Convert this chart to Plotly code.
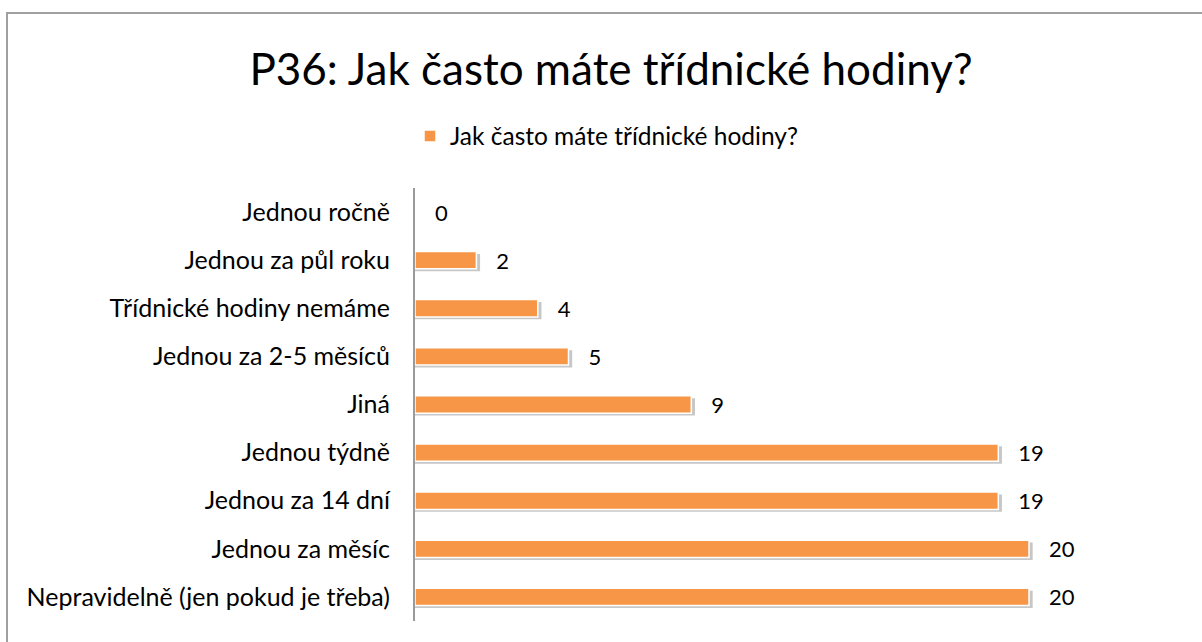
import plotly.graph_objects as go

categories = [
    "Nepravidelně (jen pokud je třeba)",
    "Jednou za měsíc",
    "Jednou za 14 dní",
    "Jednou týdně",
    "Jiná",
    "Jednou za 2-5 měsíců",
    "Třídnické hodiny nemáme",
    "Jednou za půl roku",
    "Jednou ročně",
]
values = [20, 20, 19, 19, 9, 5, 4, 2, 0]
series_name = "Jak často máte třídnické hodiny?"
title_text = "P36: Jak často máte třídnické hodiny?"

FONT = "Lato"
ORANGE = "#F79646"

W, H = 1202, 642
L, R_PX, T, B_PX = 415, 1130, 188, 621
PX_PER_UNIT = 30.7

fig = go.Figure()
# soft shadow behind bars (slightly lower and longer than the bar)
shadow_vals = [v + 0.12 if v > 0 else 0 for v in values]
fig.add_trace(go.Bar(
    y=categories, x=shadow_vals, orientation="h",
    marker=dict(color="rgba(0,0,0,0.22)", line=dict(width=0)),
    width=0.36, offset=-0.23, showlegend=False, hoverinfo="skip",
))
fig.add_trace(go.Bar(
    y=categories, x=values, orientation="h", name=series_name,
    marker=dict(color=ORANGE, line=dict(color="white", width=1.5)),
    width=0.36, offset=-0.18,
    text=values, texttemplate="   %{x}", textposition="outside",
    constraintext="none",
    textfont=dict(family=FONT, size=22, color="black"),
    cliponaxis=False,
))

def px_x(px):
    return (px - L) / (R_PX - L)

def px_y(py):
    return (B_PX - py) / (B_PX - T)

fig.update_layout(
    width=W, height=H,
    margin=dict(l=L, r=W - R_PX, t=T, b=H - B_PX, pad=0),
    paper_bgcolor="white", plot_bgcolor="white",
    barmode="overlay",
    font=dict(family=FONT, size=25, color="black"),
    title=dict(text=title_text, x=611 / W, xanchor="center", xref="container",
               y=1 - 70 / H, yanchor="middle", yref="container",
               font=dict(family=FONT, size=44, color="black")),
    legend=dict(orientation="h", x=px_x(410), xanchor="left",
                y=px_y(136), yanchor="middle",
                font=dict(family=FONT, size=24.5), itemwidth=30,
                traceorder="normal"),
    showlegend=True,
    xaxis=dict(range=[0, (R_PX - L) / PX_PER_UNIT], visible=False, fixedrange=True),
    yaxis=dict(showline=True, linecolor="#9a9a9a", linewidth=2,
               ticks="", showgrid=False, ticklabelstandoff=18,
               tickfont=dict(family=FONT, size=25), fixedrange=True),
    shapes=[dict(type="rect", xref="paper", yref="paper",
                 x0=px_x(7), x1=px_x(1220), y0=px_y(660), y1=px_y(13),
                 line=dict(color="#a0a0a0", width=2), fillcolor="rgba(0,0,0,0)",
                 layer="below")],
)

fig.write_html("out.html", config={"displayModeBar": False},
               post_script="document.body.style.margin='0';")
